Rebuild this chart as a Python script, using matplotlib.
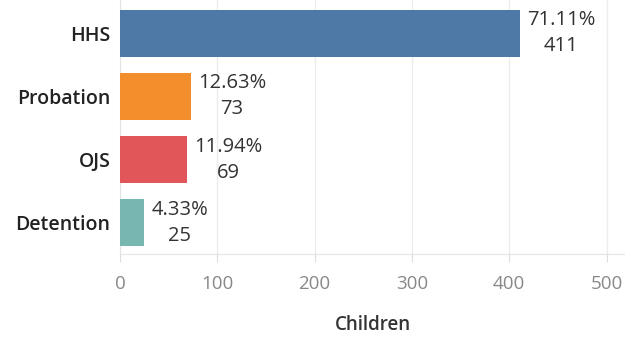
import matplotlib.pyplot as plt

plt.rcParams['font.family'] = ['Open Sans', 'DejaVu Sans']

categories = ['HHS', 'Probation', 'OJS', 'Detention']
children = [411, 73, 69, 25]
percents = ['71.11%', '12.63%', '11.94%', '4.33%']
colors = ['#4e79a7', '#f28e2b', '#e15759', '#76b7b2']

fig = plt.figure(figsize=(6.25, 3.37), dpi=100)
ax = fig.add_axes([0.192, 0.246, 0.808, 0.754])

ypos = list(range(len(categories)))
bars = ax.barh(ypos, children, height=0.746, color=colors, zorder=3)

# percent share over count, centred next to each bar
for bar, pct, n in zip(bars, percents, children):
    ax.annotate(f'{pct}\n{n}', xy=(bar.get_width(), bar.get_y() + bar.get_height() / 2),
                xytext=(5, 0), textcoords='offset points', ha='left', va='center',
                multialignment='center', fontsize=14.5, color='#333333',
                linespacing=1.4)

ax.set_yticks(ypos)
ax.set_yticklabels(categories, fontsize=14, fontweight='semibold', color='#222222')
ax.set_ylim(3.5, -0.53)
ax.set_xlim(0, 519)
ax.set_xticks([0, 100, 200, 300, 400, 500])
ax.tick_params(axis='x', colors='#dddddd', labelcolor='#888888', labelsize=13.5,
               length=6, width=0.8, pad=9)
ax.tick_params(axis='y', length=0, pad=7)
ax.set_xlabel('Children', fontsize=13.5, fontweight='semibold', color='#333333', labelpad=16)

ax.grid(axis='x', color='#ececec', linewidth=1, zorder=0)
for side in ['top', 'right']:
    ax.spines[side].set_visible(False)
ax.spines['left'].set_color('#e4e4e4')
ax.spines['bottom'].set_color('#e4e4e4')

plt.savefig('out.png', dpi=100)
